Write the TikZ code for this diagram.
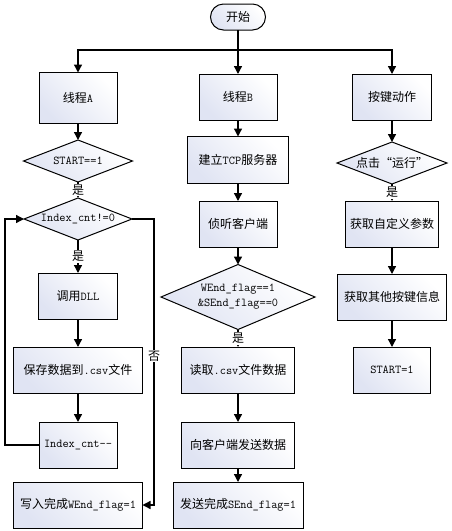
\documentclass[tikz,border=0pt]{standalone}
\usepackage{fontspec}
\setmainfont{Noto Sans CJK SC}
\usepackage{tikz}
\usetikzlibrary{positioning}
\usetikzlibrary{shapes.geometric}
\usetikzlibrary{arrows.meta}
\usepackage{xcolor}
\definecolor{boxblue}{RGB}{224,228,243}
\newcommand{\en}[1]{{\ttfamily #1}}
\tikzset{
    base/.style={draw, line width=1pt, top color=white, bottom color=boxblue,
        shading angle=-45, inner sep=1pt, outer sep=0pt,
        font=\fontsize{12}{15}\selectfont},
    box/.style={base, rectangle, minimum width=#1, minimum height=46pt},
    box/.default=78pt,
    decide/.style={base, diamond, aspect=2.4, inner sep=0pt},
    term/.style={base, rectangle, rounded corners=13pt, minimum width=55pt, minimum height=26pt},
    conn/.style={line width=1.3pt},
    arr/.style={conn, -{Triangle[length=8pt,width=8pt]}},
    lbl/.style={fill=white, inner sep=1pt, font=\fontsize{12}{14}\selectfont}
}
\begin{document}
\begin{tikzpicture}[x=1pt, y=-1pt]
    \useasboundingbox (0,0) rectangle (452,531);
    % top
    \node[term] (start) at (238,17) {开始};
    \coordinate (bus) at (238,50);
    % thread A
    \node[box, minimum height=51pt] (thA) at (78,98) {线程\en{A}};
    \node[decide, minimum width=109pt, minimum height=42pt] (isStart) at (78,161) {\en{START==1}};
    \node[decide, minimum width=108pt, minimum height=42pt] (idx) at (78,219) {\en{Index\_cnt!=0}};
    \node[box=79pt] (dll) at (78,296) {调用\en{DLL}};
    \node[box=129pt] (save) at (78,370) {保存数据到\en{.csv}文件};
    \node[box=78pt] (cnt) at (78,445) {\en{Index\_cnt-{}-}};
    \node[box=129pt] (wdone) at (78,505) {写入完成\en{WEnd\_flag=1}};
    % thread B
    \node[box] (thB) at (238,97) {线程\en{B}};
    \node[box=101pt, minimum height=47pt] (tcp) at (238,160) {建立\en{TCP}服务器};
    \node[box] (listen) at (238,224) {侦听客户端};
    \node[decide, minimum width=154pt, minimum height=65pt, align=center] (flag) at (238,297)
        {\en{WEnd\_flag==1}\\\en{\&SEnd\_flag==0}};
    \node[box=113pt] (read) at (238,370) {读取\en{.csv}文件数据};
    \node[box=113pt] (send) at (238,445) {向客户端发送数据};
    \node[box=130pt] (sdone) at (238,505) {发送完成\en{SEnd\_flag=1}};
    % key action
    \node[box=79pt] (keyact) at (392,97) {按键动作};
    \node[decide, minimum width=110pt, minimum height=42pt] (click) at (392,163) {点击“运行”};
    \node[box=93pt] (param) at (392,224) {获取自定义参数};
    \node[box=109pt] (other) at (392,297) {获取其他按键信息};
    \node[box=77pt] (setstart) at (392,370) {\en{START=1}};

    \draw[conn] (start) -- (bus);
    \draw[arr] (bus) -| (thA);
    \draw[arr] (bus) -- (thB);
    \draw[arr] (bus) -| (keyact);

    \draw[arr] (thA) -- (isStart);
    \draw[arr] (isStart) -- node[lbl] {是} (idx);
    \draw[arr] (idx) -- node[lbl] {是} (dll);
    \draw[arr] (dll) -- (save);
    \draw[arr] (save) -- (cnt);
    \draw[arr] (cnt.west) -- ++(-34,0) |- (idx.west);
    \draw[arr] (idx.east) -- ++(22,0) |- node[lbl, pos=0.24] {否} (wdone.east);

    \draw[arr] (thB) -- (tcp);
    \draw[arr] (tcp) -- (listen);
    \draw[arr] (listen) -- (flag);
    \draw[arr] (flag) -- node[lbl] {是} (read);
    \draw[arr] (read) -- (send);
    \draw[arr] (send) -- (sdone);

    \draw[arr] (keyact) -- (click);
    \draw[arr] (click) -- node[lbl] {是} (param);
    \draw[arr] (param) -- (other);
    \draw[arr] (other) -- (setstart);
\end{tikzpicture}
\end{document}
